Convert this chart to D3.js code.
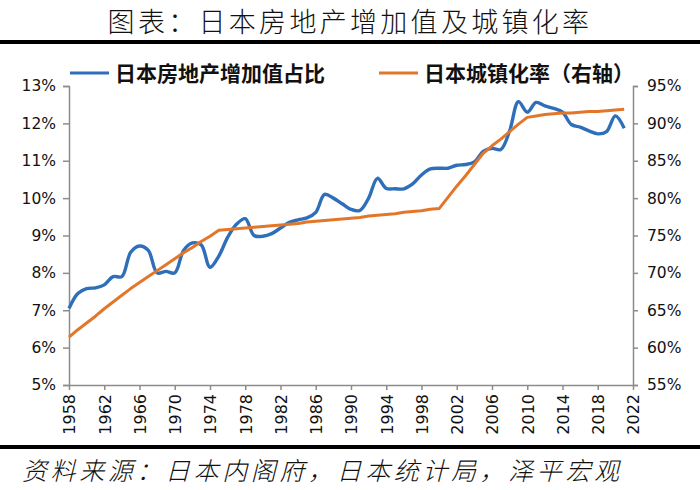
<!DOCTYPE html>
<html><head><meta charset="utf-8">
<script src="https://cdn.jsdelivr.net/npm/d3@7/dist/d3.min.js"></script>
<style>
body{margin:0;background:#fff;}
svg{display:block;}
</style></head>
<body>
<svg id="c" width="700" height="490"></svg>
<script>
const years = d3.range(1958, 2022);
const reShare = [7.05,7.45,7.58,7.6,7.68,7.9,7.9,8.55,8.72,8.6,
  8.0,8.04,8.0,8.6,8.8,8.75,8.15,8.45,8.95,9.3,
  9.45,9.0,8.98,9.05,9.2,9.35,9.42,9.47,9.62,10.1,
  10.0,9.85,9.7,9.67,10.0,10.53,10.26,10.25,10.25,10.38,
  10.62,10.78,10.8,10.8,10.88,10.9,10.97,11.25,11.33,11.3,
  11.8,12.58,12.3,12.56,12.47,12.4,12.3,11.97,11.9,11.8,
  11.72,11.78,12.2,11.87];
const urban = [61.4,62.4,63.3,64.2,65.2,66.1,67.0,67.9,68.7,69.5,
  70.3,71.1,71.9,72.7,73.4,74.2,74.9,75.7,75.8,75.9,
  76.0,76.1,76.2,76.3,76.4,76.5,76.6,76.8,76.9,77.0,
  77.1,77.2,77.3,77.4,77.6,77.7,77.8,77.9,78.1,78.2,
  78.3,78.5,78.6,80.1,81.6,83.0,84.5,86.0,87.0,87.9,
  88.9,89.9,90.8,91.0,91.2,91.3,91.4,91.4,91.5,91.6,
  91.6,91.7,91.8,91.9];
const xTicks = d3.range(1958, 2023, 4);
const leftTicks = [5,6,7,8,9,10,11,12,13];
const rightTicks = [55,60,65,70,75,80,85,90,95];
const title = "图表：日本房地产增加值及城镇化率";
const source = "资料来源：日本内阁府，日本统计局，泽平宏观";
const seriesNames = ["日本房地产增加值占比","日本城镇化率（右轴）"];

const BLUE = "#2F6FBA", ORANGE = "#E2772A", AXIS = "#8c8c8c";
const svg = d3.select("#c");
const x = d3.scaleLinear().domain([1958, 2022]).range([69, 633]);
const yL = d3.scaleLinear().domain([5, 13]).range([385, 86]);
const yR = d3.scaleLinear().domain([55, 95]).range([385, 86]);

// title
svg.append("text").attr("x", 350).attr("y", 32).attr("text-anchor","middle")
  .style("font-family","'Noto Sans CJK SC'").style("font-size","27px")
  .style("letter-spacing","3.3px").style("font-weight","300").attr("fill","#111").text(title);
svg.append("rect").attr("x",0).attr("y",40).attr("width",700).attr("height",4).attr("fill","#000");
svg.append("rect").attr("x",0).attr("y",445).attr("width",700).attr("height",4).attr("fill","#000");
svg.append("text").attr("x", 22).attr("y", 480)
  .style("font-family","'Noto Sans CJK SC'").style("font-size","25px").style("font-style","italic")
  .style("letter-spacing","3.6px").style("font-weight","300").attr("fill","#111").text(source);

const tickFont = g => g.selectAll("text").style("font-family","'DejaVu Sans'").style("font-size","15.5px").attr("fill","#111");
const axisStyle = g => { g.selectAll("path,line").attr("stroke", AXIS).attr("stroke-width",1.5); };

svg.append("g").attr("transform","translate(69,0)")
  .call(d3.axisLeft(yL).tickValues(leftTicks).tickFormat(d => d + "%").tickSize(6).tickPadding(7).tickSizeOuter(6))
  .call(axisStyle).call(tickFont);
svg.append("g").attr("transform","translate(633,0)")
  .call(d3.axisRight(yR).tickValues(rightTicks).tickFormat(d => d + "%").tickSize(5).tickPadding(9).tickSizeOuter(5))
  .call(axisStyle).call(tickFont);
const xa = svg.append("g").attr("transform","translate(0,385)")
  .call(d3.axisBottom(x).tickValues(xTicks).tickFormat(d3.format("d")).tickSize(5).tickSizeOuter(0))
  .call(axisStyle).call(tickFont);
xa.selectAll("text").attr("transform","rotate(-90)").attr("x",-9).attr("y",0)
  .attr("dy","0.36em").style("text-anchor","end").style("font-size","16px");

const blueLine = d3.line().x((d,i) => x(years[i])).y(d => yL(d)).curve(d3.curveCatmullRom.alpha(0.5));
const orangeLine = d3.line().x((d,i) => x(years[i])).y(d => yR(d));
svg.append("path").datum(reShare).attr("d", blueLine).attr("fill","none")
  .attr("stroke", BLUE).attr("stroke-width",3.4).attr("stroke-linejoin","round");
svg.append("path").datum(urban).attr("d", orangeLine).attr("fill","none")
  .attr("stroke", ORANGE).attr("stroke-width",3).attr("stroke-linejoin","round");

// legend
const leg = [{c:BLUE, x:70, t:seriesNames[0]}, {c:ORANGE, x:379, t:seriesNames[1]}];
leg.forEach(l => {
  svg.append("line").attr("x1", l.x).attr("x2", l.x + 39).attr("y1", 73).attr("y2", 73)
    .attr("stroke", l.c).attr("stroke-width", 3);
  svg.append("text").attr("x", l.x + 45).attr("y", 81)
    .style("font-family","'Noto Sans CJK SC'").style("font-size","21px").style("font-weight","bold")
    .attr("fill","#111").text(l.t);
});
</script>
</body></html>
